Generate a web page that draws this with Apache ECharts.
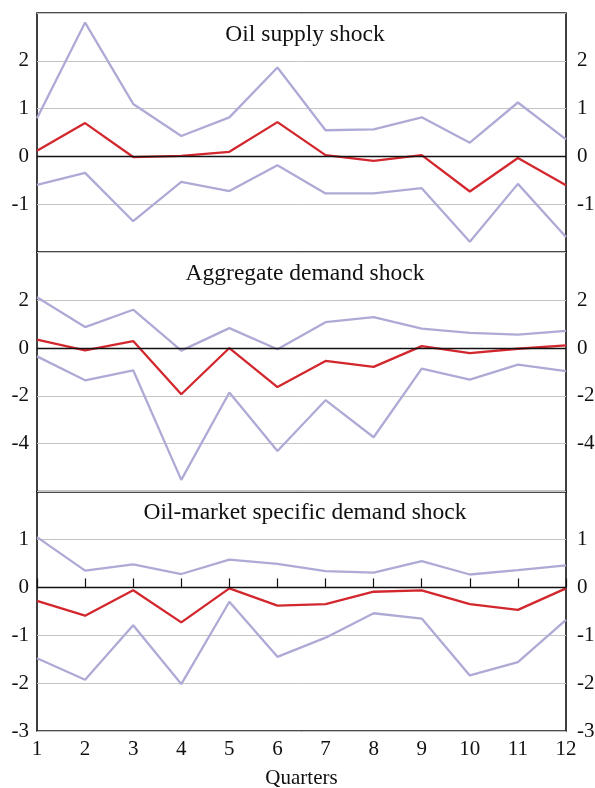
<!DOCTYPE html>
<html><head><meta charset="utf-8">
<script src="https://cdn.jsdelivr.net/npm/echarts@6/dist/echarts.min.js"></script>
<style>html,body{margin:0;padding:0;background:#fff}#c{width:595px;height:788px}</style>
</head><body><div id="c"></div>
<script>
var quarters = [1,2,3,4,5,6,7,8,9,10,11,12];
var titles = ['Oil supply shock','Aggregate demand shock','Oil-market specific demand shock'];
var xTitle = 'Quarters';
// Panel 1: Oil supply shock
var supplyUpper = [0.80,2.80,1.10,0.43,0.82,1.86,0.55,0.57,0.82,0.29,1.13,0.36];
var supplyMid   = [0.12,0.70,-0.01,0.015,0.10,0.72,0.03,-0.09,0.03,-0.73,-0.03,-0.60];
var supplyLower = [-0.59,-0.34,-1.35,-0.53,-0.72,-0.18,-0.77,-0.77,-0.66,-1.78,-0.57,-1.68];
// Panel 2: Aggregate demand shock
var aggUpper = [2.12,0.875,1.60,-0.11,0.83,-0.05,1.08,1.29,0.81,0.63,0.56,0.72];
var aggMid   = [0.35,-0.10,0.29,-1.93,0.0,-1.63,-0.54,-0.79,0.08,-0.21,-0.03,0.11];
var aggLower = [-0.35,-1.35,-0.93,-5.51,-1.86,-4.30,-2.18,-3.73,-0.86,-1.32,-0.69,-0.97];
// Panel 3: Oil-market specific demand shock
var omUpper = [1.05,0.35,0.48,0.28,0.58,0.49,0.34,0.31,0.55,0.27,0.36,0.46];
var omMid   = [-0.28,-0.59,-0.06,-0.73,-0.02,-0.38,-0.35,-0.09,-0.06,-0.35,-0.47,-0.02];
var omLower = [-1.48,-1.93,-0.79,-2.02,-0.30,-1.45,-1.05,-0.54,-0.65,-1.84,-1.56,-0.68];
// axis ranges: [min, max, interval, showMinLabel]
var yRanges = [[-2,3,1,false],[-6,4,2,false],[-3,2,1,true]];

var panels = [[supplyUpper,supplyMid,supplyLower],[aggUpper,aggMid,aggLower],[omUpper,omMid,omLower]];
var LAV = '#aeaad6', RED = '#d3272e';
var FONT = 'Liberation Serif';
var tops = [13, 252.3, 491.7];
var H = 239.3;

var grids=[], xAxes=[], yAxes=[], series=[];
panels.forEach(function(p, i){
  grids.push({left:37, width:529, top:tops[i], height:H, show:true, borderColor:'#111', borderWidth:1.6,
    backgroundColor:'transparent', containLabel:false, outerBoundsMode:'none'});
  var last = i===2;
  xAxes.push({type:'value', gridIndex:i, min:1, max:12, interval:1,
    axisLine:{show:false},
    axisTick:{show:last, inside:true, length:9, lineStyle:{color:'#111', width:1.2}},
    axisLabel:{show:last, color:'#111', fontFamily:FONT, fontSize:21, margin:8},
    splitLine:{show:false},
    name: last ? xTitle : '', nameLocation:'middle', nameGap:37,
    nameTextStyle:{color:'#111', fontFamily:FONT, fontSize:21}});
  var r = yRanges[i];
  ['left','right'].forEach(function(pos, k){
    yAxes.push({type:'value', gridIndex:i, position:pos, min:r[0], max:r[1], interval:r[2],
      axisLine:{show:false}, axisTick:{show:false},
      axisLabel:{color:'#111', fontFamily:FONT, fontSize:21, margin:pos==='left'?8:11,
        showMinLabel:r[3], showMaxLabel:false},
      splitLine:{show:k===0, lineStyle:{color:'#c4c4c4', width:1}}});
  });
  var yi = i*2;
  var mk = {silent:true, symbol:'none', label:{show:false},
    lineStyle:{color:'#111', type:'solid', width:1.4}, data:[{yAxis:0}]};
  [[p[0],LAV],[p[2],LAV],[p[1],RED]].forEach(function(s, j){
    series.push({type:'line', xAxisIndex:i, yAxisIndex:yi, symbol:'none', silent:true,
      data: quarters.map(function(q, n){ return [q, s[0][n]]; }),
      lineStyle:{color:s[1], width:2.3}, z: j===2?4:3,
      markLine: j===0 ? mk : undefined});
  });
});

var chart = echarts.init(document.getElementById('c'), null, {renderer:'canvas'});
chart.setOption({animation:false, grid:grids, xAxis:xAxes, yAxis:yAxes, series:series,
  graphic: titles.map(function(t,i){
    return {type:'text', x:305, y:tops[i]+9.5,
      style:{text:t, font:'23.5px "Liberation Serif"', fill:'#111', align:'center', verticalAlign:'top'}};
  })});
</script></body></html>
